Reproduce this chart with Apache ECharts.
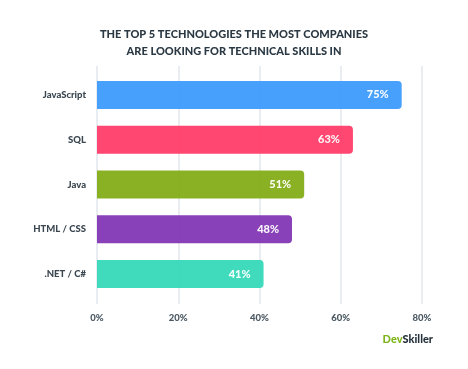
<!DOCTYPE html>
<html><head><meta charset="utf-8">
<script src="https://cdn.jsdelivr.net/npm/echarts@6/dist/echarts.min.js"></script>
<style>html,body{margin:0;padding:0;background:#fff}#c{width:468px;height:369px}</style>
</head><body><div id="c"></div>
<script>
var categories = ['JavaScript', 'SQL', 'Java', 'HTML / CSS', '.NET / C#'];
var values = [75, 63, 51, 48, 41];
var colors = ['#3d9bfc', '#ff3d69', '#84ad17', '#8237b4', '#36d9b9'];
var tickMax = 80;
var tickStep = 20;

var chart = echarts.init(document.getElementById('c'), null, {renderer: 'canvas'});
var font = 'Lato, "Open Sans", sans-serif';
chart.setOption({
  animation: false,
  backgroundColor: '#ffffff',
  title: {
    text: 'THE TOP 5 TECHNOLOGIES THE MOST COMPANIES\nARE LOOKING FOR TECHNICAL SKILLS IN',
    left: 'center', top: 21,
    textStyle: {fontFamily: font, fontSize: 11, fontWeight: 900, color: '#2b3944', lineHeight: 17}
  },
  graphic: [{
    type: 'text', right: 35, top: 334,
    style: {
      text: '{a|Dev}{b|Skiller}',
      rich: {
        a: {fontFamily: font, fontSize: 11, fontWeight: 900, fill: '#7fb51c'},
        b: {fontFamily: font, fontSize: 11, fontWeight: 900, fill: '#25323c'}
      }
    }
  }],
  grid: [
    {left: 97, right: 46, top: 66, bottom: 65},
    {left: 97, right: 46, top: 72.5, bottom: 72.5}
  ],
  xAxis: [
    {gridIndex: 0, type: 'value', min: 0, max: tickMax, interval: tickStep,
     axisLine: {show: false}, axisTick: {show: false},
     splitLine: {show: true, lineStyle: {color: '#e2e6eb', width: 1.5}},
     axisLabel: {margin: 9, formatter: '{value}%', fontFamily: font, fontSize: 9.5, fontWeight: 900, color: '#4b5862'}},
    {gridIndex: 1, type: 'value', min: 0, max: tickMax, show: false}
  ],
  yAxis: [
    {gridIndex: 0, type: 'category', show: false, data: categories},
    {gridIndex: 1, type: 'category', inverse: true, data: categories,
     axisLine: {show: false}, axisTick: {show: false},
     axisLabel: {margin: 11, fontFamily: font, fontSize: 9.5, fontWeight: 900, color: '#3a4650'}}
  ],
  series: [{
    type: 'bar', xAxisIndex: 1, yAxisIndex: 1,
    data: values.map(function (v, i) { return {value: v, itemStyle: {color: colors[i]}}; }),
    barWidth: 28,
    itemStyle: {borderRadius: [0, 4, 4, 0], opacity: 0.95},
    label: {show: true, position: 'insideRight', distance: 13, formatter: '{c}%',
      fontFamily: font, fontSize: 11, fontWeight: 900, color: '#ffffff'}
  }]
});
</script></body></html>
